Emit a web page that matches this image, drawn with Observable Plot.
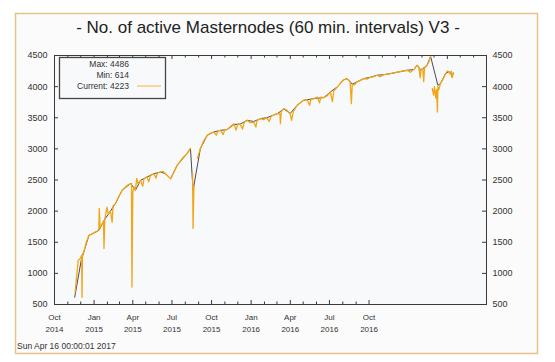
<!DOCTYPE html>
<html><head><meta charset="utf-8">
<script src="https://cdn.jsdelivr.net/npm/d3@7"></script>
<script src="https://cdn.jsdelivr.net/npm/@observablehq/plot@0.6"></script>
<style>body{margin:0;background:#fff;}</style>
</head><body><div id="chart"></div>
<script>
// ---- data ----
const trendDates = ["2014-11-17","2014-12-02","2014-12-08","2014-12-20","2014-12-31","2015-01-12","2015-01-24","2015-02-03","2015-02-20","2015-03-07","2015-03-27","2015-04-07","2015-04-19","2015-05-04","2015-05-20","2015-06-04","2015-06-16","2015-06-28","2015-07-13","2015-08-05","2015-08-13","2015-08-19","2015-09-05","2015-09-21","2015-10-06","2015-10-22","2015-11-06","2015-11-22","2015-12-07","2015-12-23","2016-01-07","2016-01-23","2016-02-06","2016-03-02","2016-03-17","2016-04-01","2016-04-17","2016-05-02","2016-05-26","2016-06-18","2016-07-03","2016-07-20","2016-08-03","2016-08-11","2016-08-23","2016-09-03","2016-09-19","2016-10-04","2016-10-20","2016-11-03","2016-11-20","2016-12-08","2016-12-29","2017-01-13","2017-01-21","2017-01-29","2017-02-13","2017-02-21","2017-03-10","2017-03-16","2017-03-28","2017-04-04","2017-04-08","2017-04-12","2017-04-15"];
const trendValues = [617,1207,1341,1610,1647,1690,1850,1950,2125,2333,2445,2333,2494,2548,2601,2628,2601,2521,2735,2923,3008,2333,3004,3218,3271,3298,3309,3390,3400,3458,3440,3486,3500,3566,3640,3570,3700,3780,3808,3824,3914,4000,4110,4129,4040,4075,4129,4150,4183,4190,4210,4235,4263,4274,4344,4263,4344,4486,4021,4049,4210,4237,4230,4156,4223];

const hourlyDates = ["2014-11-18","2014-11-25","2014-11-30","2014-12-03","2014-12-04","2014-12-05","2014-12-08","2014-12-14","2014-12-20","2014-12-26","2014-12-31","2015-01-06","2015-01-12","2015-01-13","2015-01-15","2015-01-20","2015-01-23","2015-01-24","2015-01-26","2015-01-31","2015-02-03","2015-02-08","2015-02-12","2015-02-14","2015-02-20","2015-02-27","2015-03-07","2015-03-14","2015-03-20","2015-03-29","2015-03-30","2015-04-01","2015-04-04","2015-04-07","2015-04-10","2015-04-13","2015-04-19","2015-04-24","2015-04-27","2015-05-04","2015-05-08","2015-05-12","2015-05-20","2015-05-25","2015-05-28","2015-06-04","2015-06-10","2015-06-16","2015-06-22","2015-06-28","2015-07-05","2015-07-13","2015-07-22","2015-07-28","2015-08-05","2015-08-13","2015-08-15","2015-08-18","2015-08-19","2015-08-21","2015-08-24","2015-08-29","2015-09-05","2015-09-12","2015-09-21","2015-09-28","2015-10-06","2015-10-12","2015-10-16","2015-10-22","2015-10-28","2015-11-01","2015-11-06","2015-11-14","2015-11-22","2015-11-27","2015-12-01","2015-12-07","2015-12-12","2015-12-16","2015-12-23","2015-12-30","2016-01-07","2016-01-12","2016-01-15","2016-01-23","2016-01-30","2016-02-06","2016-02-12","2016-02-16","2016-02-24","2016-03-02","2016-03-08","2016-03-09","2016-03-11","2016-03-17","2016-03-24","2016-04-01","2016-04-04","2016-04-08","2016-04-17","2016-04-24","2016-05-02","2016-05-10","2016-05-16","2016-05-19","2016-05-26","2016-06-03","2016-06-08","2016-06-11","2016-06-18","2016-06-25","2016-07-03","2016-07-08","2016-07-11","2016-07-20","2016-07-27","2016-08-03","2016-08-11","2016-08-18","2016-08-21","2016-08-23","2016-08-28","2016-09-03","2016-09-11","2016-09-19","2016-09-26","2016-10-04","2016-10-12","2016-10-20","2016-10-27","2016-11-03","2016-11-12","2016-11-20","2016-11-28","2016-12-08","2016-12-18","2016-12-29","2017-01-05","2017-01-13","2017-01-18","2017-01-21","2017-01-25","2017-01-28","2017-01-30","2017-02-03","2017-02-05","2017-02-07","2017-02-13","2017-02-17","2017-02-21","2017-02-23","2017-02-25","2017-02-28","2017-03-02","2017-03-05","2017-03-07","2017-03-09","2017-03-10","2017-03-12","2017-03-16","2017-03-22","2017-03-28","2017-04-01","2017-04-04","2017-04-08","2017-04-10","2017-04-12","2017-04-15"];
const hourlyValues = [700,1207,1240,1290,614,1310,1341,1500,1610,1630,1650,1670,1700,2045,1740,1800,1830,1400,1870,2065,1950,2000,1823,2080,2125,2230,2333,2380,2420,2445,780,2300,2390,2333,2526,2440,2494,2400,2520,2548,2470,2570,2601,2530,2610,2628,2640,2601,2560,2521,2620,2735,2820,2870,2923,3008,null,2600,1722,2400,null,2850,3004,3120,3218,3250,3271,3220,3290,3298,3230,3310,3309,3360,3405,3300,3400,3390,3320,3430,3458,3420,3431,3350,3460,3486,3470,3500,3440,3520,3550,3566,3560,3405,3600,3647,3620,3560,3458,3600,3700,3740,3780,3790,3700,3800,3808,3830,3740,3830,3824,3850,3914,3760,3930,4000,4060,4110,4129,4080,3727,4040,4030,4075,4100,4129,4120,4150,4160,4183,4160,4190,4200,4210,4220,4235,4250,4263,4230,4274,4320,4344,4300,4140,4280,4290,4080,4300,4344,4400,4486,null,3968,3862,4000,3820,3950,3592,4000,3950,4049,4120,4210,4250,4237,4200,4250,4140,4223];

const yTicks = [500,1000,1500,2000,2500,3000,3500,4000,4500];
const quarterTicks = ["2014-10-01","2015-01-01","2015-04-01","2015-07-01","2015-10-01","2016-01-01","2016-04-01","2016-07-01","2016-10-01"];
const legendLines = ["Max: 4486","Min: 614","Current: 4223"];
const titleText = "- No. of active Masternodes (60 min. intervals) V3 -";
const stampText = "Sun Apr 16 00:00:01 2017";

// ---- build ----
const parse = d3.utcParse("%Y-%m-%d");
const trend = trendDates.map((d,i)=>({date:parse(d), value:trendValues[i]}));
const hourly = hourlyDates.map((d,i)=>({date:parse(d), value:hourlyValues[i]}));
const xDomain = [parse("2014-10-01"), parse("2017-07-01")];
const W=555, H=362, mL=54, mR=69, mT=55, mB=58;
const innerH = H-mT-mB, innerW = W-mL-mR;
const bottomMonths = d3.utcMonth.range(parse("2014-10-01"), parse("2016-10-02"));
const topMonths = d3.utcMonth.range(parse("2014-10-01"), parse("2017-07-01"));
const isQ = d => d.getUTCMonth()%3===0;
const axisColor = "#3a3a3a";
const mon = d3.utcFormat("%b");
const font = "'Liberation Sans', Arial, Helvetica, sans-serif";

const svg = Plot.plot({
  width:W, height:H, marginLeft:mL, marginRight:mR, marginTop:mT, marginBottom:mB,
  style:{fontFamily:font, fontSize:"9px", color:"#333", background:"transparent", overflow:"visible"},
  x:{type:"utc", domain:xDomain},
  y:{domain:[500,4500]},
  marks:[
    Plot.frame({fill:"#f8f9fa"}),
    Plot.line(trend,{x:"date", y:"value", stroke:"#4a4a55", strokeWidth:1}),
    Plot.line(hourly,{x:"date", y:"value", stroke:"#f2a516", strokeWidth:1.3}),
    Plot.tickX(bottomMonths.filter(isQ),{x:d=>d, insetTop:innerH-4, stroke:axisColor}),
    Plot.tickX(bottomMonths.filter(d=>!isQ(d)),{x:d=>d, insetTop:innerH-2.5, stroke:axisColor}),
    Plot.tickX(topMonths.filter(isQ),{x:d=>d, insetBottom:innerH-4, stroke:axisColor}),
    Plot.tickX(topMonths.filter(d=>!isQ(d)),{x:d=>d, insetBottom:innerH-2.5, stroke:axisColor}),
    Plot.tickY(yTicks,{y:d=>d, insetRight:innerW-4, stroke:axisColor}),
    Plot.tickY(yTicks,{y:d=>d, insetLeft:innerW-4, stroke:axisColor}),
    Plot.axisX({ticks:quarterTicks.map(parse), tickSize:0, tickPadding:8, label:null, fontSize:8, lineHeight:1.4,
      tickFormat:d=>`${mon(d)}\n${d.getUTCFullYear()}`}),
    Plot.axisY({ticks:yTicks, anchor:"left", tickSize:0, tickPadding:7, label:null, fontSize:9, tickFormat:d3.format("d")}),
    Plot.axisY({ticks:yTicks, anchor:"right", tickSize:0, tickPadding:6, label:null, fontSize:9, tickFormat:d3.format("d")}),
    Plot.frame({stroke:axisColor, strokeWidth:1})
  ]
});

const s = d3.select(svg);
s.insert("rect",":first-child")
  .attr("x",15.5).attr("y",13.5).attr("width",522).attr("height",340)
  .attr("fill","#fbfbfb").attr("stroke","#e6c28a").attr("stroke-width",1.5);
s.append("text").attr("x",268).attr("y",33).attr("text-anchor","middle")
  .attr("font-family",font).attr("font-size",17).attr("fill","#222").text(titleText);
// legend box
s.append("rect").attr("x",59.5).attr("y",57.5).attr("width",106).attr("height",41)
  .attr("fill","#f8f9fa").attr("stroke","#444").attr("stroke-width",1.3);
const ly = [64,75,86];
legendLines.forEach((t,i)=>{
  s.append("text").attr("x",129).attr("y",ly[i]).attr("dy","0.35em").attr("text-anchor","end")
   .attr("font-family",font).attr("font-size",8.5).attr("fill","#333").text(t);
});
s.append("line").attr("x1",137).attr("x2",161).attr("y1",86).attr("y2",86)
  .attr("stroke","#f5c060").attr("stroke-width",1.2);
s.append("text").attr("x",17).attr("y",349).attr("text-anchor","start").attr("font-family",font).attr("font-size",8.5)
  .attr("fill","#333").text(stampText);

document.getElementById("chart").appendChild(svg);
</script>
</body></html>
